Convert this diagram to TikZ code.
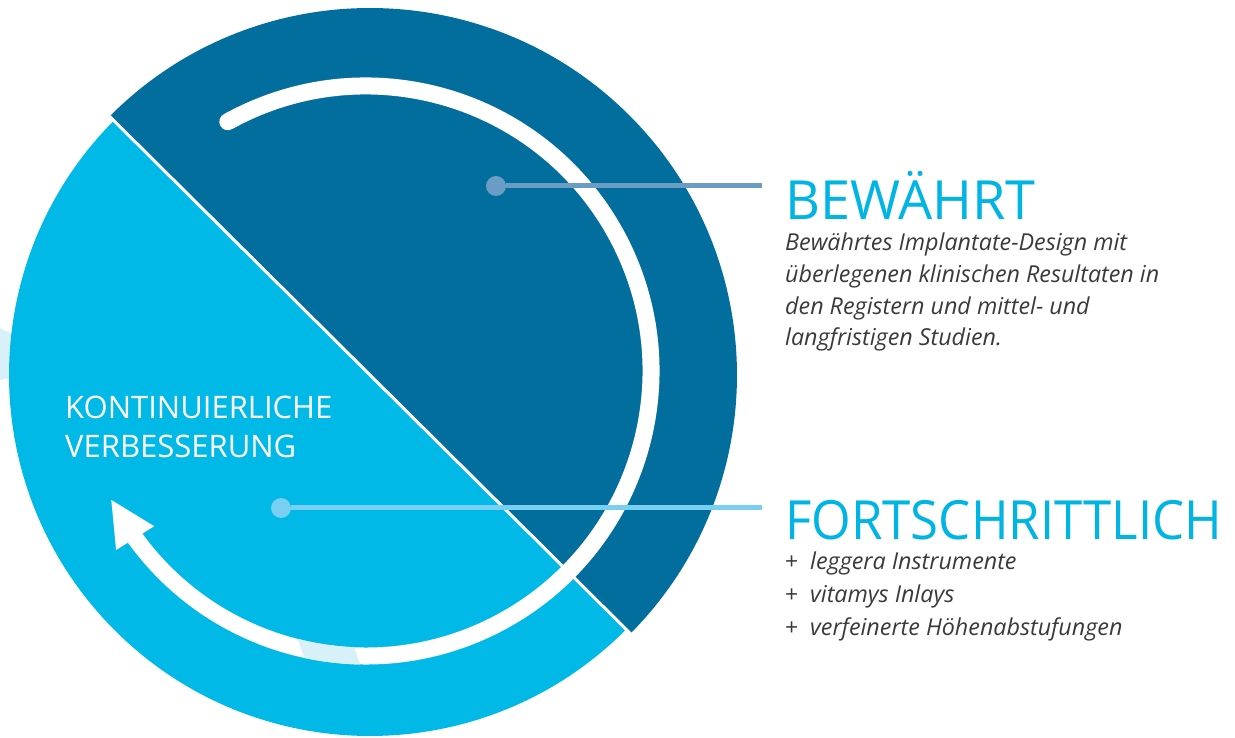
\documentclass[tikz,border=0pt]{standalone}
\usepackage{fontspec}
\setmainfont{Open Sans}
\usetikzlibrary{calc}
\definecolor{darkb}{HTML}{026E9E}
\definecolor{lightb}{HTML}{00B9E7}
\definecolor{pale}{HTML}{D8F1F9}
\definecolor{titleb}{HTML}{00B4E4}
\definecolor{bodyc}{HTML}{3A3A3A}
\definecolor{lineA}{HTML}{6B9DC4}
\definecolor{lineB}{HTML}{78CFF2}
\begin{document}
\begin{tikzpicture}[x=1pt,y=1pt,
  title/.style={anchor=base west, inner sep=0pt, text=titleb, font=\fontsize{54}{60}\selectfont},
  body/.style={anchor=base west, inner sep=0pt, text=bodyc, font=\itshape\fontsize{23.3}{28}\selectfont},
  plusmark/.style={anchor=base west, inner sep=0pt, text=bodyc, font=\fontsize{23}{28}\selectfont},
  inner/.style={anchor=base west, inner sep=0pt, text=white, font=\fontsize{31}{36}\selectfont},
  dot/.style={circle, inner sep=0pt, minimum size=20pt},
  conn/.style={line width=5pt}]
\useasboundingbox (0,0) rectangle (1235,737);
\coordinate (C) at (370,362);
\coordinate (W) at (366,366);
% pale background band
\fill[pale] (0,409) -- (20,399) -- (20,360) -- (0,357) -- cycle;
% circle halves
\fill[darkb] ($(C)+(135.2:367)$) arc[start angle=135.2, end angle=-44.8, radius=367] -- cycle;
\fill[lightb] ($(C)+(-44.8:361)$) arc[start angle=-44.8, end angle=-224.8, radius=361] -- cycle;
\draw[white, line width=3pt] ($(C)+(135.2:370)$) -- ($(C)+(-44.8:370)$);
% white arc
\draw[white, line width=17pt, line cap=round] ($(W)+(119:285)$) arc[start angle=119, end angle=-144.1, radius=285];
\begin{scope}
\clip (297,100) -- (351,100) -- (364,60) -- (311,60) -- cycle;
\draw[pale, line width=17pt] ($(W)+(119:285)$) arc[start angle=119, end angle=-144.1, radius=285];
\end{scope}
\coordinate (B) at ($(W)+(215.9:285)$);
\fill[white] ($(B)+(32:22.5)$) -- ($(B)+(122:45)$) -- ($(B)+(212:22.5)$) -- cycle;
% connectors
\node[dot, fill=lineA] (d1) at (496,551) {};
\coordinate (e1) at (762,551);
\draw[lineA, conn] (d1) -- (e1);
\node[dot, fill=lineB] (d2) at (281,229) {};
\coordinate (e2) at (762,229);
\draw[lineB, conn] (d2) -- (e2);
% texts
\node[inner] (k1) at (65,318) {KONTINUIERLICHE};
\node[inner] (k2) at (65,279) {VERBESSERUNG};
\node[title] (t1) at (785,517) {BEWÄHRT};
\node[body] (b1) at (785,486) {Bewährtes Implantate-Design mit};
\node[body] (b2) at (785,454) {überlegenen klinischen Resultaten in};
\node[body] (b3) at (785,422) {den Registern und mittel- und};
\node[body] (b4) at (785,391) {langfristigen Studien.};
\node[title] (t2) at (785,197) {\resizebox{437pt}{\height}{FORTSCHRITTLICH}};
\node[plusmark] (p1) at (785,167) {+};
\node[body] (l1) at (810,167) {leggera Instrumente};
\node[plusmark] (p2) at (785,135) {+};
\node[body] (l2) at (810,135) {vitamys Inlays};
\node[plusmark] (p3) at (785,102) {+};
\node[body] (l3) at (810,102) {verfeinerte Höhenabstufungen};
\end{tikzpicture}
\end{document}
